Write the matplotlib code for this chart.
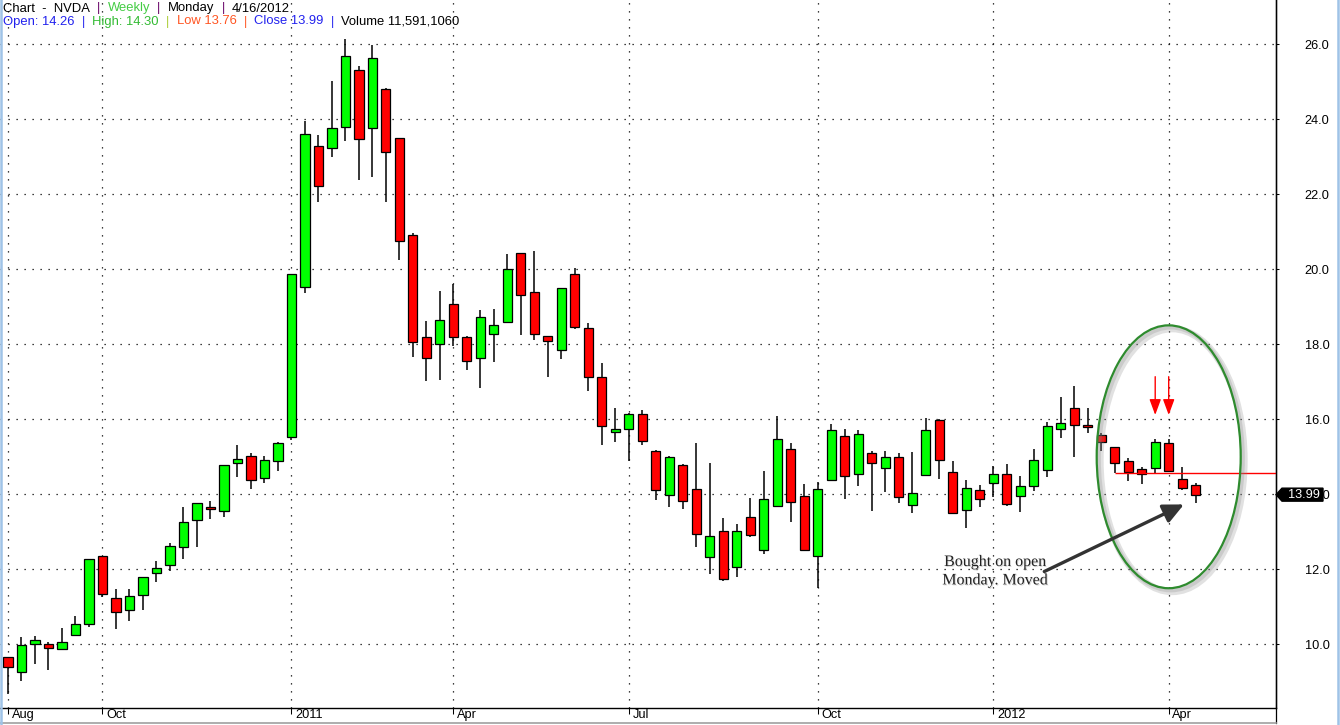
import numpy as np
import matplotlib
matplotlib.use("Agg")
import matplotlib.pyplot as plt
from matplotlib.patches import Ellipse, Polygon
from matplotlib.lines import Line2D
from matplotlib.transforms import IdentityTransform
import matplotlib.patheffects as pe

# ---------------- data (weekly NVDA candles, Aug 2010 - Apr 16 2012) ----------------
opens = [9.65, 9.25, 10.00, 10.00, 9.87, 10.24, 10.53, 12.35, 11.23, 10.91,
         11.31, 11.89, 12.11, 12.59, 13.31, 13.65, 13.55, 14.83, 15.01, 14.43,
         14.88, 15.52, 19.52, 23.28, 23.23, 23.79, 25.31, 23.76, 24.80, 23.49,
         20.91, 18.19, 18.00, 19.07, 18.19, 17.63, 18.27, 18.59, 20.43, 19.39,
         18.21, 17.84, 19.87, 18.43, 17.12, 15.65, 15.73, 16.13, 15.15, 13.97,
         14.77, 14.13, 12.32, 13.01, 12.05, 13.39, 12.51, 13.68, 15.20, 13.95,
         12.35, 14.37, 15.55, 14.53, 15.09, 14.69, 14.99, 13.71, 14.51, 15.97,
         14.59, 13.57, 14.11, 14.29, 14.53, 13.95, 14.21, 14.64, 15.73, 16.29,
         15.84, 15.57, 15.25, 14.88, 14.67, 14.69, 15.36, 14.40, 14.26]
highs = [9.66, 10.20, 10.21, 10.05, 10.44, 10.76, 12.27, 12.36, 11.48, 11.48,
         11.79, 12.22, 12.70, 13.66, 13.76, 13.81, 14.77, 15.31, 15.10, 15.01,
         15.39, 19.87, 23.96, 23.57, 25.02, 26.14, 25.42, 25.98, 24.83, 23.50,
         20.96, 18.62, 19.42, 19.61, 18.21, 18.92, 18.94, 20.41, 20.44, 20.49,
         18.22, 19.49, 20.04, 18.56, 17.49, 16.29, 16.18, 16.24, 15.17, 15.01,
         14.80, 15.37, 14.83, 13.36, 13.20, 13.89, 14.61, 16.08, 15.36, 14.27,
         14.32, 15.87, 15.73, 15.71, 15.15, 15.15, 15.09, 15.13, 16.03, 16.00,
         14.89, 14.38, 14.24, 14.75, 14.80, 14.48, 15.20, 15.92, 16.59, 16.88,
         16.29, 15.63, 15.27, 14.96, 14.72, 15.47, 15.47, 14.72, 14.30]
lows = [8.67, 9.03, 9.48, 9.32, 9.86, 10.23, 10.47, 11.27, 10.40, 10.63,
        10.92, 11.67, 11.96, 12.28, 12.60, 13.35, 13.39, 14.47, 14.15, 14.31,
        14.63, 15.45, 19.38, 21.80, 23.00, 23.43, 22.39, 22.47, 21.80, 20.26,
        17.67, 17.03, 17.06, 17.96, 17.32, 16.84, 17.54, 18.58, 18.26, 18.12,
        17.14, 17.62, 18.40, 16.76, 15.32, 15.40, 14.88, 15.32, 13.84, 13.65,
        13.60, 12.60, 11.87, 11.68, 11.80, 12.85, 12.40, 13.67, 13.27, 12.49,
        11.49, 14.35, 13.87, 14.21, 13.55, 14.07, 13.78, 13.51, 14.50, 14.40,
        13.47, 13.11, 13.67, 13.94, 13.68, 13.52, 14.08, 14.45, 15.49, 15.00,
        15.63, 15.16, 14.56, 14.35, 14.27, 14.56, 14.60, 14.11, 13.76]
closes = [9.39, 9.97, 10.11, 9.89, 10.05, 10.53, 12.27, 11.33, 10.85, 11.28,
          11.79, 12.03, 12.61, 13.25, 13.76, 13.60, 14.77, 14.93, 14.37, 14.91,
          15.38, 19.87, 23.60, 22.21, 23.76, 25.68, 23.47, 25.63, 23.12, 20.75,
          18.05, 17.63, 18.64, 18.19, 17.55, 18.72, 18.51, 20.00, 19.31, 18.27,
          18.08, 19.49, 18.45, 17.12, 15.81, 15.73, 16.13, 15.41, 14.11, 14.99,
          13.81, 12.93, 12.88, 11.73, 13.01, 12.91, 13.87, 15.47, 13.79, 12.51,
          14.13, 15.71, 14.48, 15.60, 14.83, 14.99, 13.92, 14.03, 15.71, 14.91,
          13.49, 14.16, 13.87, 14.53, 13.73, 14.21, 14.91, 15.81, 15.89, 15.84,
          15.79, 15.39, 14.83, 14.59, 14.53, 15.39, 14.61, 14.16, 13.99]

x_tick_index = [0, 7, 21, 33, 46, 60, 73, 86]
x_tick_labels = ["Aug", "Oct", "2011", "Apr", "Jul", "Oct", "2012", "Apr"]
y_ticks = [10.0, 12.0, 14.0, 16.0, 18.0, 20.0, 22.0, 24.0, 26.0]

support_level = 14.56
support_start = 82
signal_weeks = [85, 86]
note_text = "Bought on open\nMonday. Moved"
volume_text = "11,591,1060"

FS = 9.2
HFS = 9.4
SANS = "Liberation Sans"

# ---------------- figure ----------------
W, H = 1340, 725
fig = plt.figure(figsize=(W / 100, H / 100), dpi=100)
fig.patch.set_facecolor("white")
ax = fig.add_axes([0, 16.7 / H, 1276 / W, 708.3 / H])
ax.set_facecolor("white")

xs = np.arange(len(opens))
o = np.array(opens); c = np.array(closes); hi = np.array(highs); lo = np.array(lows)
up = c >= o
cols = np.where(up, "#00FF00", "#FF0000")

ax.set_xlim(-0.593, 93.95)
ax.set_ylim(8.293, 27.181)

# grid
dots = (0, (1, 5.4))
ax.set_yticks(y_ticks)
ax.set_xticks(x_tick_index)
ax.grid(True, color="black", linestyle=dots, linewidth=0.9, zorder=0)
ax.set_axisbelow(True)

# candles
ax.vlines(xs, lo, hi, color="black", linewidth=1.1, zorder=2)
ax.bar(xs, np.maximum(np.abs(c - o), 0.03), bottom=np.minimum(o, c), width=0.68,
       color=cols, edgecolor="black", linewidth=0.9, zorder=3)

# axes styling
for s in ["left", "top"]:
    ax.spines[s].set_visible(False)
ax.spines["bottom"].set_linewidth(1.0)
ax.spines["right"].set_linewidth(1.0)
ax.yaxis.tick_right()
ax.set_yticklabels([f"{v:.1f}" for v in y_ticks])
ax.tick_params(axis="y", direction="out", length=2.2, width=0.75, pad=18.5,
               labelsize=FS, colors="black")
for lab in ax.get_yticklabels():
    lab.set_fontfamily(SANS)
ax.set_xticklabels([""] * len(x_tick_index))
ax.tick_params(axis="x", direction="out", length=4.3, width=0.75)
for xi, lab in zip(x_tick_index, x_tick_labels):
    ax.annotate(lab, xy=(xi, 0), xycoords=("data", "axes fraction"),
                xytext=(2.7, -0.6), textcoords="offset points",
                ha="left", va="top", fontsize=FS, family=SANS,
                annotation_clip=False)

# support line
ax.hlines(support_level, support_start, ax.get_xlim()[1], color="red", linewidth=1.0, zorder=4)

# red arrows
for wk in signal_weeks:
    ax.annotate("", xy=(wk, 16.115), xytext=(wk, 17.136),
                arrowprops=dict(arrowstyle="-|>,head_length=0.95,head_width=0.35",
                                color="red", lw=1.0, shrinkA=0, shrinkB=0,
                                mutation_scale=10), zorder=5)

# green ellipse with soft shadow
ell = Ellipse((86.0, 15.0), width=10.67, height=7.01, fill=False,
              edgecolor="#2E8B2E", linewidth=1.6, zorder=6)
ell.set_path_effects([
    pe.SimpleLineShadow(offset=(2.5, -2.5), shadow_color="#888888", alpha=0.25, linewidth=5),
    pe.SimpleLineShadow(offset=(1.5, -1.5), shadow_color="#888888", alpha=0.25, linewidth=3),
    pe.Normal()])
ax.add_patch(ell)

# note arrow + text
ax.annotate("", xy=(87.13, 13.73), xytext=(76.78, 11.94),
            arrowprops=dict(arrowstyle="-|>,head_length=0.95,head_width=0.45",
                            color="#333333", lw=2.4, shrinkA=0, shrinkB=0,
                            mutation_scale=13), zorder=7)
ax.text(73.13, 11.95, note_text, ha="center", va="center", fontsize=11.5,
        family="Liberation Serif", color="#222222", linespacing=1.2, zorder=7,
        path_effects=[pe.withSimplePatchShadow(offset=(0.7, -0.7), shadow_rgbFace="#bbbbbb", alpha=0.6)])

# last price tag
x0 = ax.bbox.x1
y0 = ax.transData.transform((0, closes[-1]))[1]
tag = Polygon([(x0, y0), (x0 + 6, y0 + 6.5), (x0 + 47, y0 + 6.5), (x0 + 47, y0 - 6.5), (x0 + 6, y0 - 6.5)],
              closed=True, facecolor="black", edgecolor="black", transform=IdentityTransform(),
              zorder=10)
fig.add_artist(tag)
fig.text((x0 + 27.5) / W, y0 / H, f"{closes[-1]:.2f}", color="white", fontsize=9.2,
         family=SANS, ha="center", va="center", zorder=11)

# frame decorations
fig.add_artist(Line2D([1276 / W, 1276 / W], [2 / H, 1], color="black", lw=0.9))
fig.add_artist(Line2D([0, 1276 / W], [1.7 / H, 1.7 / H], color="#A0A0A0", lw=1.2))
fig.add_artist(Line2D([1 / W, 1 / W], [0, 1], color="#9FC3E7", lw=1.8))
fig.add_artist(Line2D([1338 / W, 1338 / W], [0, 1], color="#9FC3E7", lw=1.8))

# header (pieces laid out on a common baseline)
renderer = fig.canvas.get_renderer()


def text_width(s):
    t = fig.text(0, 0, s, fontsize=HFS, family=SANS)
    w = t.get_window_extent(renderer=renderer).width
    t.remove()
    return w


GAP = text_width("x  x") - text_width("xx")


def chain(parts, x_px, y_px):
    x = x_px
    for i, (txt, col) in enumerate(parts):
        t = fig.text(x / W, 1 - y_px / H, txt, color=col, fontsize=HFS, family=SANS,
                     va="baseline", ha="left", zorder=12)
        x = t.get_window_extent(renderer=renderer).x1 + GAP


purple = "#660066"
line1 = [("Chart  -  NVDA", "black"), ("|", purple), ("Weekly", "#44CC44"),
         ("|", purple), ("Monday", "black"), ("|", purple), ("4/16/2012", "black")]
blue = "#2222EE"
green = "#33BB33"
orange = "#FF5522"
line2 = [(f"Open: {opens[-1]:.2f}", blue), ("|", blue),
         (f"High: {highs[-1]:.2f}", green), ("|", "#AACC33"),
         (f"Low {lows[-1]:.2f}", orange), ("|", orange),
         (f"Close {closes[-1]:.2f}", blue), ("|", blue),
         (f"Volume {volume_text}", "black")]
chain(line1, 3, 11.5)
chain(line2, 3, 24.5)

fig.savefig("out.png", dpi=100, facecolor="white")
